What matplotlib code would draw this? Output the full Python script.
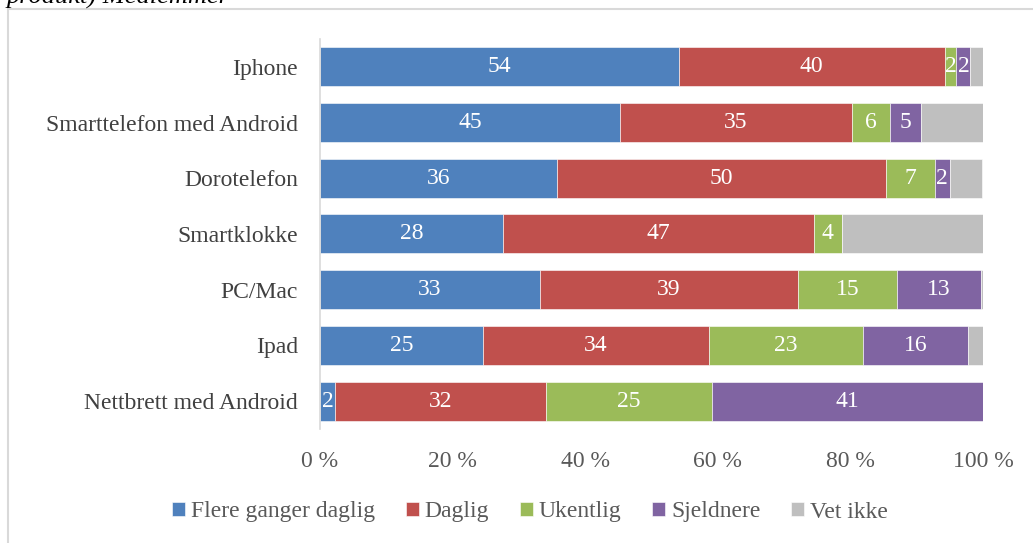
import numpy as np
import matplotlib
matplotlib.use("Agg")
from matplotlib import pyplot as plt
from matplotlib.patches import Rectangle

# categories bottom -> top
categories = ["Nettbrett med Android", "Ipad", "PC/Mac", "Smartklokke",
              "Dorotelefon", "Smarttelefon med Android", "Iphone"]
series = ["Flere ganger daglig", "Daglig", "Ukentlig", "Sjeldnere", "Vet ikke"]
colors = ["#4F81BD", "#C0504D", "#9BBB59", "#8064A2", "#BFBFBF"]

flere = [2.3, 24.6, 33.2, 27.6, 35.7, 45.2, 54.1]
daglig = [31.8, 34.1, 38.9, 46.9, 49.6, 35.0, 40.1]
ukentlig = [25.0, 23.2, 14.9, 4.2, 7.4, 5.7, 1.8]
sjeldnere = [40.9, 15.8, 12.7, 0.0, 2.3, 4.7, 2.1]
vet_ikke = [0.0, 2.3, 0.3, 21.3, 4.9, 9.4, 1.9]
values = [flere, daglig, ukentlig, sjeldnere, vet_ikke]
labelled = [True, True, True, True, False]

plt.rcParams['font.family'] = ['Liberation Serif', 'DejaVu Serif']
textcol = "#595959"
fs = 17

fig = plt.figure(figsize=(10.33, 5.43), dpi=100)
ax = fig.add_axes([320/1033, 1-429/543, 663/1033, 390/543])

y = np.arange(len(categories))
left = np.zeros(len(categories))
for name, vals, col, lab in zip(series, values, colors, labelled):
    vals = np.array(vals)
    ax.barh(y, vals, left=left, height=0.7, color=col, label=name,
            edgecolor="white", linewidth=0.4)
    if lab:
        for yi, l, v in zip(y, left, vals):
            if v >= 1:
                ax.text(l + v/2, yi, f"{round(v):d}", ha="center", va="center",
                        color="white", fontsize=fs)
    left += vals

ax.set_xlim(0, 100)
ax.set_ylim(-0.5, len(categories) - 0.5)
ax.set_yticks(y)
ax.set_yticklabels(categories, fontsize=fs, color="#404040")
ax.set_xticks(np.arange(0, 101, 20))
ax.set_xticklabels([f"{t} %" for t in range(0, 101, 20)], fontsize=fs, color=textcol)
ax.tick_params(axis="both", length=0)
ax.tick_params(axis="x", pad=16)
ax.tick_params(axis="y", pad=16)
for s in ["top", "right", "bottom"]:
    ax.spines[s].set_visible(False)
ax.spines["left"].set_color("#D9D9D9")
ax.spines["left"].set_linewidth(1.2)

leg = fig.legend(loc="center", bbox_to_anchor=(530/1033, 1-512/543), ncol=5,
                 frameon=False, fontsize=fs, handlelength=0.55, handleheight=0.55,
                 handletextpad=0.25, columnspacing=1.3)
for t in leg.get_texts():
    t.set_color(textcol)

# outer frame and cut-off caption
fig.add_artist(Rectangle((8/1033, -0.1), 1.1, 1.1 - 9/543, transform=fig.transFigure,
                         fill=False, edgecolor="#D9D9D9", linewidth=1.5))
fig.text(7/1033, 1-4/543, "produkt) Medlemmer", fontsize=19, style="italic",
         ha="left", va="baseline", color="black")

fig.savefig("out.png", dpi=100)
